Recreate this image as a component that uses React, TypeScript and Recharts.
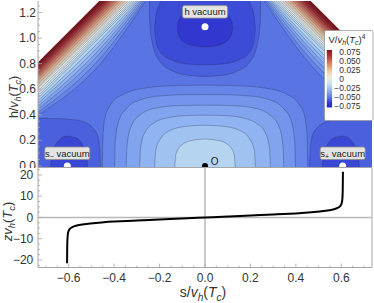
import React from "react";
import {
  ComposedChart,
  Area,
  Line,
  Scatter,
  XAxis,
  YAxis,
  ReferenceLine,
  ReferenceArea,
  Legend,
} from "recharts";

const FONT = "'Liberation Sans', Arial, Helvetica, sans-serif";
const TICK_COLOR = "#333";
const FRAME = "#a6a6a6";
const CONTOUR = "rgba(40,40,70,0.5)";

// ── Axes ───────────────────────────────────────────────────────────────
const S_DOMAIN: [number, number] = [-0.735, 0.735];
const H_DOMAIN: [number, number] = [-0.0125, 1.29];
const Z_DOMAIN: [number, number] = [-23.5, 23.5];
const H_BOT = -0.03;
const H_TOP = 1.295;

const hTicks = [0, 0.2, 0.4, 0.6, 0.8, 1, 1.2];
const hMinor = [0.05, 0.1, 0.15, 0.25, 0.3, 0.35, 0.45, 0.5, 0.55, 0.65, 0.7, 0.75, 0.85, 0.9, 0.95, 1.05, 1.1, 1.15, 1.25];
const sTicks = [-0.6, -0.4, -0.2, 0, 0.2, 0.4, 0.6];
const sMinor = [-0.7, -0.65, -0.55, -0.5, -0.45, -0.35, -0.3, -0.25, -0.15, -0.1, -0.05, 0.05, 0.1, 0.15, 0.25, 0.3, 0.35, 0.45, 0.5, 0.55, 0.65, 0.7];
const zTicks = [-20, -10, 0, 10, 20];
const zMinor = [-22.5, -17.5, -15, -12.5, -7.5, -5, -2.5, 2.5, 5, 7.5, 12.5, 15, 17.5, 22.5];
const barTicks = [0.075, 0.05, 0.025, 0, -0.025, -0.05, -0.075];

// ── Potential V(s,h): contour shapes (left half) ───
// band value = V inside the contour
const baseBand = -0.0525;

// s- vacuum basin, [s, h] upper edge, open to the bottom
const sVacBands = [-0.0575, -0.064];
const sVacContours: [number, number][][] = [
  [[-0.74, 0.372], [-0.65, 0.37], [-0.58, 0.362], [-0.53, 0.342], [-0.495, 0.3], [-0.472, 0.235], [-0.463, 0.12], [-0.46, H_BOT]],
  [[-0.68, H_BOT], [-0.674, 0.1], [-0.652, 0.18], [-0.61, 0.232], [-0.57, 0.22], [-0.537, 0.16], [-0.521, 0.08], [-0.516, H_BOT]],
];

// h vacuum basin, [s, low, high]
const hVacBands = [-0.0575, -0.0625, -0.069];
const hVacContours: [number, number, number][][] = [
  [[-0.245, 1.3, 1.3], [-0.243, 1.12, 1.3], [-0.23, 0.95, 1.3], [-0.2, 0.82, 1.3], [-0.14, 0.74, 1.3], [-0.07, 0.708, 1.3], [0, 0.7, 1.3]],
  [[-0.222, 1.07, 1.07], [-0.216, 0.98, 1.17], [-0.203, 0.91, 1.25], [-0.19, 0.875, 1.3], [-0.155, 0.835, 1.3], [-0.09, 0.8, 1.3], [0, 0.79, 1.3]],
  [[-0.122, 1.08, 1.08], [-0.118, 1.035, 1.125], [-0.105, 0.99, 1.17], [-0.08, 0.958, 1.2], [-0.04, 0.937, 1.222], [0, 0.93, 1.228]],
];

// central basin around the origin, [s, h] upper edge
const centerBands = [-0.0475, -0.0425, -0.0375, -0.0325, -0.0275, -0.021];
const centerContours: [number, number][][] = [
  [[-0.452, H_BOT], [-0.45, 0.2], [-0.44, 0.38], [-0.415, 0.48], [-0.36, 0.56], [-0.26, 0.61], [-0.13, 0.628], [0, 0.632]],
  [[-0.398, H_BOT], [-0.395, 0.18], [-0.38, 0.35], [-0.345, 0.45], [-0.28, 0.52], [-0.18, 0.55], [-0.08, 0.557], [0, 0.558]],
  [[-0.347, H_BOT], [-0.343, 0.16], [-0.325, 0.31], [-0.285, 0.4], [-0.21, 0.455], [-0.11, 0.472], [0, 0.475]],
  [[-0.288, H_BOT], [-0.284, 0.14], [-0.265, 0.26], [-0.225, 0.335], [-0.16, 0.378], [-0.08, 0.394], [0, 0.397]],
  [[-0.222, H_BOT], [-0.217, 0.12], [-0.195, 0.215], [-0.15, 0.28], [-0.08, 0.31], [0, 0.318]],
  [[-0.134, H_BOT], [-0.128, 0.09], [-0.105, 0.16], [-0.06, 0.198], [0, 0.21]],
];

// steep walls in the upper corners: level, h on the left edge, s on the top edge
const cornerLevels = [-0.05, -0.045, -0.04, -0.035, -0.03, -0.025, -0.02, -0.015, -0.01, -0.005, 0, 0.005, 0.01, 0.015, 0.02, 0.025, 0.03, 0.035, 0.04, 0.045, 0.05, 0.055, 0.06, 0.065, 0.07, 0.075, 0.08, 0.085];
const cornerLeftH = [0.3967, 0.4202, 0.4437, 0.4671, 0.4906, 0.5102, 0.5297, 0.5493, 0.5689, 0.5884, 0.608, 0.6193, 0.6306, 0.6419, 0.6532, 0.6645, 0.6758, 0.6871, 0.6984, 0.7097, 0.721, 0.7323, 0.7436, 0.7549, 0.7662, 0.7775, 0.7888, 0.8001];
const cornerTopS = [-0.2599, -0.2665, -0.2731, -0.2797, -0.2863, -0.293, -0.2996, -0.3084, -0.3172, -0.326, -0.3348, -0.3419, -0.349, -0.3561, -0.3632, -0.3703, -0.3774, -0.3845, -0.3916, -0.3987, -0.4058, -0.4129, -0.42, -0.4271, -0.4342, -0.4413, -0.4484, -0.4555];
const cornerMid: ([number, number] | null)[] = [[-0.4665, 0.788], [-0.4769, 0.812], [-0.4868, 0.8357], [-0.4945, 0.8552], [-0.5022, 0.8748], [-0.5099, 0.8924]];
const edgeLeftH = 0.8114;
const edgeTopS = -0.4626;

// ── Points and labels ──────────────────────────────────────────────────
const vacua = [{ s: 0, h: 1.088 }, { s: -0.606, h: 0 }, { s: 0.606, h: 0 }];
const origin = [{ s: 0, h: 0 }];
const vacuumTags = [
  { s: 0, h: 1.205, name: "h" },
  { s: -0.606, h: 0.099, name: "s-" },
  { s: 0.606, h: 0.099, name: "s+" },
];
const originTag = [{ s: 0.042, h: 0.035 }];

// ── Domain wall profile z(s) ───────────────────────────────────────────
const kinkZ = [-21.5, -12, -8, -6.5, -5.5, -4.6, -3.9, -3.3, -2.8, -2.3, -1.9, -1.4, -0.95, -0.48, 0, 0.48, 0.95, 1.4, 1.9, 2.3, 2.8, 3.3, 3.9, 4.6, 5.5, 6.5, 8, 12, 21.5];
const kinkS = [-0.607, -0.606, -0.604, -0.601, -0.596, -0.586, -0.568, -0.54, -0.505, -0.455, -0.4, -0.3, -0.2, -0.1, 0, 0.1, 0.2, 0.3, 0.4, 0.455, 0.505, 0.54, 0.568, 0.586, 0.596, 0.601, 0.604, 0.606, 0.607];
const kinkData = kinkZ.map((z, i) => ({ s: kinkS[i], z }));

// ── Colour map ─────────────────────────────────────────────────────────
const colorStops: [number, string][] = [
  [-0.08, "#2628c0"], [-0.068, "#3238d0"], [-0.062, "#3e4ed8"], [-0.057, "#4c62de"],
  [-0.052, "#5a76e4"], [-0.047, "#6687e8"], [-0.042, "#7496ec"], [-0.037, "#82a5ef"],
  [-0.032, "#91b4f1"], [-0.027, "#a0c4f1"], [-0.022, "#b2d2ef"], [-0.015, "#c4deec"],
  [-0.005, "#deeaea"], [0.005, "#f0eada"], [0.02, "#f2cea8"], [0.035, "#e49c78"],
  [0.05, "#cc6656"], [0.065, "#aa3434"], [0.08, "#87161c"], [0.095, "#760e14"],
];

function hex(c: string) {
  return [1, 3, 5].map((i) => parseInt(c.slice(i, i + 2), 16));
}

function vColor(v: number): string {
  if (v <= colorStops[0][0]) return colorStops[0][1];
  for (let i = 1; i < colorStops.length; i++) {
    const [v1, c1] = colorStops[i];
    if (v <= v1) {
      const [v0, c0] = colorStops[i - 1];
      const t = (v - v0) / (v1 - v0);
      const a = hex(c0), b = hex(c1);
      const m = a.map((x, k) => Math.round(x + (b[k] - x) * t));
      return `rgb(${m[0]},${m[1]},${m[2]})`;
    }
  }
  return colorStops[colorStops.length - 1][1];
}

// ── Building the area tables ───────────────────────────────────────────
type Row = { s: number; r: [number, number] };

const toRows = (pts: [number, number, number][]): Row[] => pts.map(([s, lo, hi]) => ({ s, r: [lo, hi] }));
const flip = (rows: Row[]): Row[] => rows.map((p) => ({ s: -p.s, r: p.r })).reverse();
const symmetric = (half: Row[]): Row[] => [...half, ...flip(half.filter((p) => p.s < 0))];
const fromBottom = (pts: [number, number][]): Row[] => toRows(pts.map(([s, h]) => [s, H_BOT, h]));

function cornerRows(leftH: number, topS: number, mid: [number, number] | null): Row[] {
  const rows: Row[] = [{ s: S_DOMAIN[0], r: [leftH, H_TOP] }];
  if (mid) rows.push({ s: mid[0], r: [mid[1], H_TOP] });
  rows.push({ s: topS, r: [H_TOP, H_TOP] });
  return rows;
}

const baseRows: Row[] = [{ s: -0.8, r: [H_BOT, H_TOP] }, { s: 0.8, r: [H_BOT, H_TOP] }];

// ── Small drawing helpers ──────────────────────────────────────────────
const signed = (v: number, digits: number) => (v < 0 ? "\u2212" : "") + Math.abs(v).toFixed(digits);

function VhTc({ size }: { size: number }) {
  const sub = size * 0.72;
  return (
    <>
      <tspan fontStyle="italic">v</tspan>
      <tspan fontStyle="italic" fontSize={sub} dy={size * 0.25}>h</tspan>
      <tspan dy={-size * 0.25}>(</tspan>
      <tspan fontStyle="italic">T</tspan>
      <tspan fontStyle="italic" fontSize={sub} dy={size * 0.25}>c</tspan>
      <tspan dy={-size * 0.25}>)</tspan>
    </>
  );
}

function band(rows: Row[], v: number, key: string, stroke = true) {
  return (
    <Area
      key={key}
      data={rows}
      dataKey="r"
      type="monotone"
      fill={vColor(v)}
      fillOpacity={1}
      stroke={stroke ? CONTOUR : "none"}
      strokeWidth={0.6}
      dot={false}
      activeDot={false}
      isAnimationActive={false}
      legendType="none"
    />
  );
}

function HTick(props: any) {
  const { x, y, payload } = props;
  const major = hTicks.includes(payload.value);
  return (
    <g>
      <line x1={x} x2={x + (major ? 4 : 2)} y1={y} y2={y} stroke={FRAME} strokeWidth={0.8} />
      {major && (
        <text x={x - 2} y={y + 4} textAnchor="end" fontSize={12} fontFamily={FONT} fill={TICK_COLOR}>
          {payload.value.toFixed(1)}
        </text>
      )}
    </g>
  );
}

function ZTick(props: any) {
  const { x, y, payload } = props;
  const major = zTicks.includes(payload.value);
  return (
    <g>
      <line x1={x} x2={x + (major ? 4 : 2)} y1={y} y2={y} stroke={FRAME} strokeWidth={0.8} />
      {major && (
        <text x={x - 4.7} y={y + 4.2} textAnchor="end" fontSize={12} fontFamily={FONT} fill={TICK_COLOR}>
          {signed(payload.value, 0)}
        </text>
      )}
    </g>
  );
}

function STick(props: any) {
  const { x, y, payload } = props;
  const major = sTicks.includes(payload.value);
  return (
    <g>
      <line x1={x} x2={x} y1={y} y2={y - (major ? 4 : 2)} stroke={FRAME} strokeWidth={0.8} />
      {major && (
        <text x={x} y={y + 14} textAnchor="middle" fontSize={12} fontFamily={FONT} fill={TICK_COLOR}>
          {signed(payload.value, 1)}
        </text>
      )}
    </g>
  );
}

function VacuumTag(props: any) {
  const { cx, cy, payload } = props;
  const w = 45;
  const h = 12.5;
  return (
    <g>
      <rect x={cx - w / 2} y={cy - h / 2} width={w} height={h} rx={2} fill="#e4e4e4" stroke="#8c8c8c" strokeWidth={0.8} />
      <text x={cx} y={cy + 3.3} textAnchor="middle" fontSize={9.5} fontFamily={FONT} fill="#222">
        {payload.name === "h" ? (
          <tspan>h{"\u00a0"}vacuum</tspan>
        ) : (
          <>
            <tspan>s</tspan>
            <tspan fontSize={7} dy={2.5}>{payload.name === "s-" ? "\u2212" : "+"}</tspan>
            <tspan dy={-2.5}>{"\u00a0"}vacuum</tspan>
          </>
        )}
      </text>
    </g>
  );
}

function ColorKey() {
  const top = 20;
  const height = 57.5;
  const y = (v: number) => top + ((0.08 - v) / 0.16) * height;
  const stops = colorStops.filter(([v]) => v >= -0.08 && v <= 0.08);
  return (
    <svg width={50} height={92} style={{ display: "block" }}>
      <defs>
        <linearGradient id="vbar" x1="0" y1="1" x2="0" y2="0">
          {stops.map(([v, c]) => (
            <stop key={v} offset={(v + 0.08) / 0.16} stopColor={c} />
          ))}
        </linearGradient>
      </defs>
      <rect x={0.5} y={0.5} width={48.5} height={90} rx={1.5} fill="#fff" stroke="#9a9a9a" strokeWidth={0.8} />
      <text x={4.5} y={12.5} fontSize={9.5} fontFamily={FONT} fill="#222">
        <tspan>V/</tspan>
        <VhTc size={9.5} />
        <tspan fontSize={6.5} dy={-4}>4</tspan>
      </text>
      <rect x={2.8} y={top} width={5.3} height={height} fill="url(#vbar)" />
      {barTicks.map((t) => (
        <text key={t} x={t < 0 ? 10.3 : 15.3} y={y(t) + 3} fontSize={8.5} fontFamily={FONT} fill="#333">
          {t === 0 ? "0" : signed(t, 3)}
        </text>
      ))}
    </svg>
  );
}

// ── Component ──────────────────────────────────────────────────────────
export default function App() {
  const sTickAll = [...sTicks, ...sMinor].sort((a, b) => a - b);
  const zTickAll = [...zTicks, ...zMinor].sort((a, b) => a - b);
  const hTickAll = [...hTicks, ...hMinor].sort((a, b) => a - b);

  return (
    <div style={{ position: "absolute", left: 0, top: 0, width: 374, height: 303, background: "#fff", fontFamily: FONT }}>
      {/* potential landscape */}
      <div style={{ position: "absolute", left: 0, top: 0 }}>
        <ComposedChart width={374} height={168} margin={{ top: 1, right: 2, bottom: 0.5, left: 0 }}>
          <XAxis type="number" dataKey="s" domain={S_DOMAIN} allowDataOverflow hide />
          <YAxis
            type="number"
            domain={H_DOMAIN}
            allowDataOverflow
            width={38}
            ticks={hTickAll}
            interval={0}
            tickSize={0}
            tickMargin={0}
            tickLine={false}
            tick={<HTick />}
            axisLine={{ stroke: FRAME }}
            label={{
              content: (p: any) => (
                <text
                  transform={`translate(${p.viewBox.x + 18}, ${p.viewBox.y + 96}) rotate(-90)`}
                  textAnchor="middle"
                  fontSize={12.5}
                  fontFamily={FONT}
                  fill="#333"
                >
                  <tspan>h/</tspan>
                  <VhTc size={12.5} />
                </text>
              ),
            }}
          />
          {band(baseRows, baseBand, "base", false)}
          {sVacContours.map((c, i) => band(fromBottom(c), sVacBands[i], `svl${i}`))}
          {sVacContours.map((c, i) => band(flip(fromBottom(c)), sVacBands[i], `svr${i}`))}
          {hVacContours.map((c, i) => band(symmetric(toRows(c)), hVacBands[i], `hv${i}`))}
          {centerContours.map((c, i) => band(symmetric(fromBottom(c)), centerBands[i], `c${i}`))}
          {cornerLevels.map((lv, i) => band(cornerRows(cornerLeftH[i], cornerTopS[i], cornerMid[i] ?? null), lv + 0.0025, `kl${i}`))}
          {cornerLevels.map((lv, i) => band(flip(cornerRows(cornerLeftH[i], cornerTopS[i], cornerMid[i] ?? null)), lv + 0.0025, `kr${i}`))}
          <Area data={cornerRows(edgeLeftH, edgeTopS, null)} dataKey="r" type="linear" fill="#fff" fillOpacity={1} stroke="none" isAnimationActive={false} legendType="none" />
          <Area data={flip(cornerRows(edgeLeftH, edgeTopS, null))} dataKey="r" type="linear" fill="#fff" fillOpacity={1} stroke="none" isAnimationActive={false} legendType="none" />
          <Scatter data={vacua} dataKey="h" isAnimationActive={false} legendType="none"
            shape={(p: any) => <circle cx={p.cx} cy={p.cy} r={3.5} fill="#fff" />} />
          <Scatter data={origin} dataKey="h" isAnimationActive={false} legendType="none"
            shape={(p: any) => <circle cx={p.cx} cy={p.cy} r={3} fill="#000" />} />
          <Scatter data={originTag} dataKey="h" isAnimationActive={false} legendType="none"
            shape={(p: any) => (
              <text x={p.cx} y={p.cy + 3.5} textAnchor="middle" fontSize={10} fontFamily={FONT} fill="#222">O</text>
            )} />
          <Scatter data={vacuumTags} dataKey="h" isAnimationActive={false} legendType="none" shape={<VacuumTag />} />
          <Legend
            content={<ColorKey />}
            layout="horizontal"
            verticalAlign="middle"
            align="center"
            wrapperStyle={{ left: 324, top: 30, width: 50, height: 92 }}
          />
        </ComposedChart>
      </div>

      {/* wall profile */}
      <div style={{ position: "absolute", left: 0, top: 167 }}>
        <ComposedChart width={374} height={136} data={kinkData} margin={{ top: 0.5, right: 2, bottom: 0, left: 0 }}>
          <XAxis
            type="number"
            dataKey="s"
            domain={S_DOMAIN}
            allowDataOverflow
            height={35.5}
            ticks={sTickAll}
            interval={0}
            tickSize={0}
            tickMargin={0}
            tickLine={false}
            axisLine={false}
            tick={<STick />}
            label={{
              content: (p: any) => (
                <text
                  x={p.viewBox.x + p.viewBox.width / 2 - 2}
                  y={p.viewBox.y + 29.5}
                  textAnchor="middle"
                  fontSize={14}
                  fontFamily={FONT}
                  fill="#333"
                >
                  <tspan>s/</tspan>
                  <VhTc size={14} />
                </text>
              ),
            }}
          />
          <YAxis
            type="number"
            domain={Z_DOMAIN}
            allowDataOverflow
            width={38}
            ticks={zTickAll}
            interval={0}
            tickSize={0}
            tickMargin={0}
            tickLine={false}
            axisLine={false}
            tick={<ZTick />}
            label={{
              content: (p: any) => (
                <text
                  transform={`translate(${p.viewBox.x + 12}, ${p.viewBox.y + 54}) rotate(-90)`}
                  textAnchor="middle"
                  fontSize={13}
                  fontFamily={FONT}
                  fill="#333"
                >
                  <tspan fontStyle="italic">z</tspan>
                  <VhTc size={13} />
                </text>
              ),
            }}
          />
          <ReferenceArea x1={S_DOMAIN[0]} x2={S_DOMAIN[1]} y1={Z_DOMAIN[0]} y2={Z_DOMAIN[1]} fill="none" stroke={FRAME} strokeWidth={1} />
          <ReferenceLine y={0} stroke="#b8b8b8" strokeWidth={1.5} />
          <ReferenceLine x={0} stroke="#b8b8b8" strokeWidth={1.5} />
          <Line dataKey="z" type="monotoneY" stroke="#000" strokeWidth={2} dot={false} activeDot={false} isAnimationActive={false} />
        </ComposedChart>
      </div>
    </div>
  );
}
